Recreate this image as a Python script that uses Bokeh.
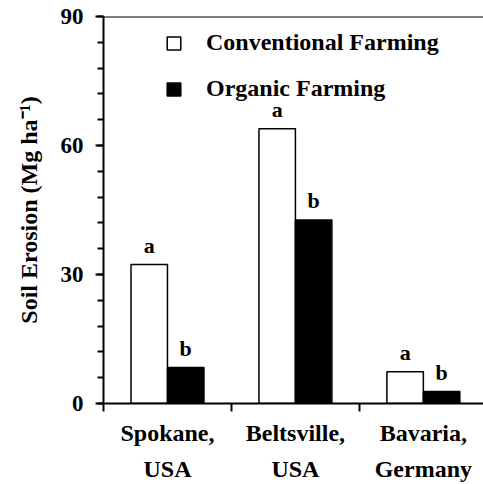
from bokeh.plotting import figure
from bokeh.models import Range1d, FixedTicker, Span, Legend, LegendItem, ColumnDataSource
from bokeh.embed import file_html
from bokeh.resources import INLINE
from bokeh.core.properties import value

# ---- data ----
sites = ["Spokane,\nUSA", "Beltsville,\nUSA", "Bavaria,\nGermany"]
conventional = [32.3, 63.9, 7.4]
organic = [8.4, 42.7, 2.8]
conv_letters = ["a", "a", "a"]
org_letters = ["b", "b", "b"]
y_ticks = [0, 30, 60, 90]
y_minor_ticks = [0, 6, 12, 18, 24, 30, 36, 42, 48, 54, 60, 66, 72, 78, 84, 90]
y_label = "Soil Erosion (Mg ha\u207b\u00b9)"

FONT = "Liberation Serif"
BAR_W = 0.285
n = len(sites)
x_conv = [i + 0.5 - BAR_W / 2 for i in range(n)]
x_org = [i + 0.5 + BAR_W / 2 for i in range(n)]

src_c = ColumnDataSource(dict(x=x_conv, top=conventional, lab=conv_letters))
src_o = ColumnDataSource(dict(x=x_org, top=organic, lab=org_letters))

p = figure(width=483, height=484, output_backend="svg", toolbar_location=None,
           x_range=Range1d(0, 2.97), y_range=Range1d(0, 90),
           min_border_left=103, min_border_right=0, min_border_top=16,
           min_border_bottom=81)
p.outline_line_color = None
p.grid.visible = False

r1 = p.vbar(x="x", top="top", width=BAR_W, source=src_c, fill_color="white",
            line_color="black", line_width=1.5)
r2 = p.vbar(x="x", top="top", width=BAR_W, source=src_o, fill_color="black",
            line_color="black", line_width=1.5)

for src in (src_c, src_o):
    p.text(x="x", y="top", text="lab", source=src, text_align="center",
           text_baseline="alphabetic", y_offset=-19,
           text_font=value(FONT), text_font_style="bold", text_font_size="22px",
           text_color="black")

# top frame line
p.add_layout(Span(location=90, dimension="width", line_color="black", line_width=2))

# x axis
xa = p.xaxis[0]
xa.ticker = FixedTicker(ticks=[i + 0.5 for i in range(n)], minor_ticks=list(range(n + 1)))
xa.major_label_overrides = {i + 0.5: s for i, s in enumerate(sites)}
xa.major_tick_line_color = None
xa.major_tick_out = 0
xa.major_tick_in = 0
xa.minor_tick_out = 8
xa.minor_tick_in = 0
xa.minor_tick_line_width = 2
xa.minor_tick_line_color = "black"
xa.axis_line_width = 2
xa.axis_line_color = "black"
xa.major_label_text_font = FONT
xa.major_label_text_font_style = "bold"
xa.major_label_text_font_size = "24px"
xa.major_label_text_color = "black"
xa.major_label_text_line_height = 1.39
xa.major_label_standoff = 8

# y axis
ya = p.yaxis[0]
ya.ticker = FixedTicker(ticks=y_ticks, minor_ticks=y_minor_ticks)
ya.major_tick_out = 8
ya.major_tick_in = 0
ya.minor_tick_out = 6
ya.minor_tick_in = 0
ya.major_tick_line_width = 2
ya.minor_tick_line_width = 2
ya.major_tick_line_color = "black"
ya.minor_tick_line_color = "black"
ya.axis_line_width = 2
ya.axis_line_color = "black"
ya.major_label_text_font = FONT
ya.major_label_text_font_style = "bold"
ya.major_label_text_font_size = "23px"
ya.major_label_text_color = "black"
ya.major_label_standoff = 12
ya.axis_label = y_label
ya.axis_label_text_font = FONT
ya.axis_label_text_font_style = "bold"
ya.axis_label_text_font_size = "24px"
ya.axis_label_text_color = "black"
ya.axis_label_standoff = 16

legend = Legend(items=[LegendItem(label="Conventional Farming", renderers=[r1]),
                       LegendItem(label="Organic Farming", renderers=[r2])],
                location=(62, 301), orientation="vertical",
                glyph_width=17, glyph_height=16, label_height=16,
                label_standoff=24, spacing=19, padding=0, margin=0,
                border_line_color=None, background_fill_alpha=0,
                label_text_font=FONT, label_text_font_style="bold",
                label_text_font_size="24px", label_text_color="black")
p.add_layout(legend)

open("out.html", "w").write(file_html(p, INLINE))
